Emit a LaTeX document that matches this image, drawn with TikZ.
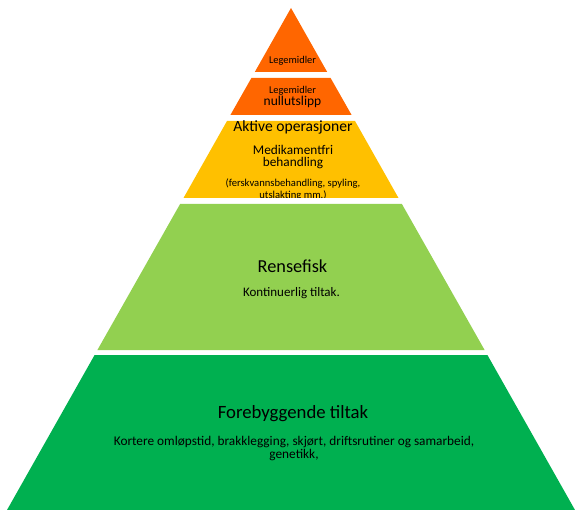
\documentclass[tikz,border=0pt]{standalone}
\usepackage{fontspec}
\setmainfont{Carlito}
\definecolor{lvlorange}{HTML}{FF6600}
\definecolor{lvlyellow}{HTML}{FFC000}
\definecolor{lvllight}{HTML}{92D050}
\definecolor{lvlgreen}{HTML}{00B050}
\begin{document}
\begin{tikzpicture}[x=1pt,y=-1pt,
  lbl/.style={inner sep=0pt,align=center,text=black}]
\useasboundingbox (0,0) rectangle (575,510);
% levels
\fill[lvlorange] (291,8) -- (327.2,72) -- (254.8,72) -- cycle;
\fill[lvlorange] (251.4,78) -- (330.6,78) -- (351.6,115) -- (230.4,115) -- cycle;
\fill[lvlyellow] (227,121) -- (355,121) -- (398.5,198) -- (183.5,198) -- cycle;
\fill[lvllight] (180.1,204) -- (401.9,204) -- (484.6,350) -- (97.4,350) -- cycle;
\fill[lvlgreen] (94.6,355) -- (487.4,355) -- (575,510) -- (7,510) -- cycle;
% texts
\node[lbl,font=\fontsize{10.4}{11}\selectfont] (t1) at (292.5,61) {Legemidler};
\node[lbl,font=\fontsize{10.4}{11}\selectfont] (t2a) at (292.5,91) {Legemidler};
\node[lbl,font=\fontsize{13.5}{15}\selectfont] (t2b) at (292.5,102) {nullutslipp};
\node[lbl,font=\fontsize{15.6}{17}\selectfont] (t3a) at (293,127) {Aktive operasjoner};
\node[lbl,font=\fontsize{13.3}{12.5}\selectfont] (t3b) at (293,157) {Medikamentfri\\behandling};
\begin{scope}
\clip (227,121) -- (355,121) -- (398.5,198) -- (183.5,198) -- cycle;
\node[lbl,font=\fontsize{10.6}{12}\selectfont] (t3c) at (293,190) {(ferskvannsbehandling, spyling,\\utslakting mm.)};
\end{scope}
\node[lbl,font=\fontsize{18.3}{20}\selectfont] (t4a) at (292.5,266) {Rensefisk};
\node[lbl,font=\fontsize{13}{14}\selectfont] (t4b) at (291.5,293) {Kontinuerlig tiltak.};
\node[lbl,font=\fontsize{18.75}{21}\selectfont] (t5a) at (293,414) {Forebyggende tiltak};
\node[lbl,font=\fontsize{13.3}{13.3}\selectfont] (t5b) at (294,448.5) {Kortere omløpstid, brakklegging, skjørt, driftsrutiner og samarbeid,\\genetikk,};
\end{tikzpicture}
\end{document}
